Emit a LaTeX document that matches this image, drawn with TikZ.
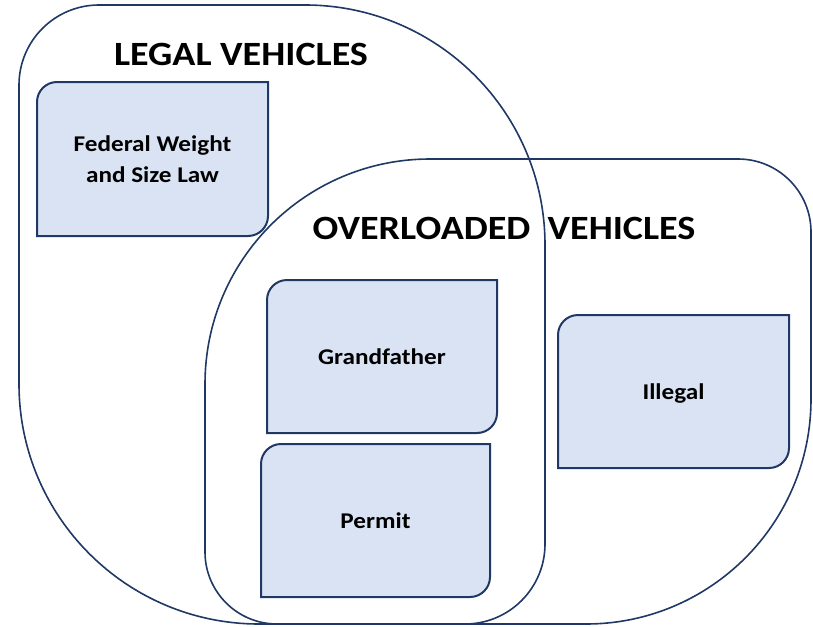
\documentclass[tikz,border=0pt]{standalone}
\usepackage{fontspec}
\setmainfont{Carlito}[FakeStretch=1.12]
\usepackage{tikz}
\usepackage{xcolor}
\definecolor{setline}{HTML}{203864}
\definecolor{boxfill}{HTML}{DAE3F3}
\definecolor{boxline}{HTML}{1F3864}
\tikzset{
    set-outline/.style = {draw=setline, line width=1.6pt},
    set-title/.style = {anchor=base, inner sep=0pt, font=\fontsize{34}{40}\selectfont\bfseries},
    law-box/.style = {draw=boxline, fill=boxfill, line width=2pt},
    law-box-text/.style = {align=center, text depth=0pt, font=\fontsize{22.5}{31}\selectfont\bfseries},
}
\newcommand{\lawbox}[6]{%
    \filldraw[law-box] (#2+20,#3) -- (#4,#3) -- (#4,#5-20) arc[start angle=0, end angle=90, radius=20]
        -- (#2,#5) -- (#2,#3+20) arc[start angle=180, end angle=270, radius=20] -- cycle;
    \node[law-box-text] (#1) at ({(#2+#4)/2},{(#3+#5)/2}) {#6};
}

\begin{document}
\begin{tikzpicture}[x=1pt, y=-1pt]
\useasboundingbox (0,0) rectangle (813,626);
\draw[set-outline] (99,5) -- (305,5) arc[start angle=270, end angle=360, radius=240]
    -- (545,544) arc[start angle=0, end angle=90, radius=80]
    -- (259,624) arc[start angle=90, end angle=180, radius=240]
    -- (19,85) arc[start angle=180, end angle=270, radius=80] -- cycle;
\draw[set-outline] (430,159) -- (738,159) arc[start angle=270, end angle=360, radius=73]
    -- (811,399) arc[start angle=0, end angle=90, radius=225]
    -- (277,624) arc[start angle=90, end angle=180, radius=72]
    -- (205,384) arc[start angle=180, end angle=270, radius=225] -- cycle;
\node[set-title] (legal-title) at (241,65) {LEGAL VEHICLES};
\node[set-title] (overloaded-title) at (504,239) {OVERLOADED\ \ VEHICLES};
\lawbox{federal}{37}{82}{268}{236}{Federal Weight\\and Size Law}
\lawbox{grandfather}{267}{280}{497}{433}{Grandfather}
\lawbox{permit}{261}{444}{490}{597}{Permit}
\lawbox{illegal}{558}{315}{789}{468}{Illegal}
\end{tikzpicture}
\end{document}
